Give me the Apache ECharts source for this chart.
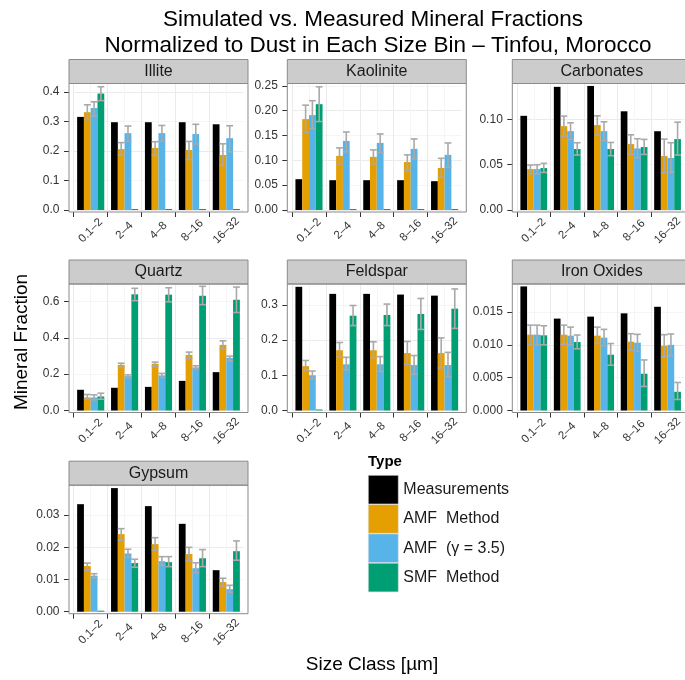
<!DOCTYPE html>
<html><head><meta charset="utf-8">
<script src="https://cdn.jsdelivr.net/npm/echarts@6/dist/echarts.min.js"></script>
<style>html,body{margin:0;padding:0;background:#fff}#c{width:685px;height:680px}</style>
</head><body><div id="c"></div>
<script>
// ---------------- DATA ----------------
const minerals = ['Illite', 'Kaolinite', 'Carbonates', 'Quartz', 'Feldspar', 'Iron Oxides', 'Gypsum'];
const sizeBins = ['0.1–2', '2–4', '4–8', '8–16', '16–32'];
const seriesNames = ['Measurements', 'AMF Method', 'AMF (γ = 3.5)', 'SMF Method'];

const measurements = [
  [0.315, 0.297, 0.297, 0.297, 0.290],
  [0.062, 0.060, 0.060, 0.060, 0.058],
  [0.104, 0.136, 0.137, 0.109, 0.087],
  [0.114, 0.125, 0.130, 0.163, 0.211],
  [0.351, 0.331, 0.331, 0.329, 0.326],
  [0.0189, 0.0140, 0.0143, 0.0148, 0.0158],
  [0.0334, 0.0384, 0.0328, 0.0273, 0.0129]
];
const amfMethod = [
  [0.331, 0.206, 0.210, 0.203, 0.186],
  [0.183, 0.109, 0.107, 0.0965, 0.0845],
  [0.0452, 0.0926, 0.0938, 0.0728, 0.0596],
  [0.0716, 0.251, 0.257, 0.306, 0.361],
  [0.126, 0.171, 0.171, 0.163, 0.163],
  [0.01155, 0.01155, 0.0114, 0.01048, 0.00987],
  [0.0142, 0.0241, 0.0210, 0.0179, 0.0092]
];
const amfLo = [
  [0.306, 0.185, 0.185, 0.171, 0.151],
  [0.156, 0.093, 0.093, 0.080, 0.066],
  [0.040, 0.0816, 0.0827, 0.0618, 0.0412],
  [0.062, 0.237, 0.244, 0.286, 0.338],
  [0.115, 0.151, 0.150, 0.131, 0.121],
  [0.0100, 0.0101, 0.0102, 0.0092, 0.0082],
  [0.0129, 0.0222, 0.0191, 0.0158, 0.0080]
];
const amfHi = [
  [0.356, 0.228, 0.231, 0.232, 0.224],
  [0.211, 0.125, 0.121, 0.111, 0.104],
  [0.0496, 0.1037, 0.104, 0.083, 0.0783],
  [0.088, 0.260, 0.266, 0.321, 0.383],
  [0.142, 0.193, 0.195, 0.196, 0.206],
  [0.0130, 0.0130, 0.0127, 0.0117, 0.01155],
  [0.0151, 0.0258, 0.0230, 0.0200, 0.0104]
];
const amfGamma = [
  [0.345, 0.260, 0.260, 0.257, 0.243],
  [0.191, 0.139, 0.135, 0.123, 0.111],
  [0.0452, 0.0871, 0.0871, 0.068, 0.0574],
  [0.0716, 0.189, 0.193, 0.237, 0.290],
  [0.100, 0.131, 0.131, 0.129, 0.129],
  [0.01155, 0.0114, 0.0111, 0.01033, 0.0100],
  [0.0112, 0.0181, 0.0157, 0.0135, 0.0070]
];
const gammaLo = [
  [0.318, 0.233, 0.233, 0.223, 0.197],
  [0.164, 0.117, 0.115, 0.103, 0.086],
  [0.040, 0.0779, 0.0768, 0.0577, 0.0415],
  [0.059, 0.180, 0.182, 0.229, 0.273],
  [0.090, 0.115, 0.111, 0.103, 0.096],
  [0.0100, 0.0100, 0.00987, 0.0090, 0.00834],
  [0.0105, 0.0169, 0.0144, 0.0121, 0.0060]
];
const gammaHi = [
  [0.366, 0.284, 0.286, 0.290, 0.285],
  [0.220, 0.157, 0.153, 0.143, 0.135],
  [0.050, 0.0963, 0.0974, 0.0787, 0.0743],
  [0.086, 0.196, 0.204, 0.246, 0.299],
  [0.112, 0.151, 0.153, 0.156, 0.165],
  [0.0130, 0.0127, 0.01236, 0.0116, 0.01165],
  [0.0118, 0.0194, 0.0171, 0.0152, 0.0082]
];
const smfMethod = [
  [0.394, 0.001, 0.001, 0.001, 0.001],
  [0.213, 0.001, 0.001, 0.001, 0.001],
  [0.0463, 0.0673, 0.0673, 0.0695, 0.0783],
  [0.077, 0.639, 0.637, 0.631, 0.609],
  [0.001, 0.269, 0.271, 0.274, 0.289],
  [0.01145, 0.01043, 0.0085, 0.0056, 0.00285],
  [0.0001, 0.0151, 0.0154, 0.0166, 0.0188]
];
const smfLo = [
  [0.370, null, null, null, null],
  [0.178, null, null, null, null],
  [0.0415, 0.0607, 0.060, 0.0614, 0.0607],
  [0.062, 0.604, 0.598, 0.582, 0.539],
  [null, 0.241, 0.241, 0.230, 0.233],
  [0.0100, 0.0094, 0.0069, 0.00366, 0.00168],
  [null, 0.0138, 0.014, 0.014, 0.016]
];
const smfHi = [
  [0.417, null, null, null, null],
  [0.248, null, null, null, null],
  [0.0515, 0.0743, 0.0746, 0.078, 0.097],
  [0.095, 0.672, 0.675, 0.683, 0.679],
  [null, 0.298, 0.302, 0.318, 0.345],
  [0.0129, 0.0115, 0.0102, 0.0077, 0.00427],
  [null, 0.0163, 0.0171, 0.0193, 0.022]
];
// axis limits and tick labels per panel
const yMax = [0.428, 0.2546, 0.1397, 0.6957, 0.359, 0.01927, 0.0393];
const yTicks = [
  [0, 0.1, 0.2, 0.3, 0.4],
  [0, 0.05, 0.10, 0.15, 0.20, 0.25],
  [0, 0.05, 0.10],
  [0, 0.2, 0.4, 0.6],
  [0, 0.1, 0.2, 0.3],
  [0, 0.005, 0.010, 0.015],
  [0, 0.01, 0.02, 0.03]
];
const yDecimals = [1, 2, 2, 1, 1, 3, 2];

// ---------------- STYLE / LAYOUT ----------------
const colors = ['#000000', '#E69F00', '#56B4E9', '#009E73'];
const FONT = '"Liberation Sans", Arial, Helvetica, sans-serif';
const U = 33.9, PANEL_W = 5.28 * U, GRID_W = 5 * U, GRID_H = 126.5, STRIP_H = 24, PAD_L = 0.14 * U, PAD_B = 2;
const colLeft = [69, 287.3, 512.3];
const rowTop = [83.5, 284, 485.2];

const values = [measurements, amfMethod, amfGamma, smfMethod];
const lows = [null, amfLo, gammaLo, smfLo];
const highs = [null, amfHi, gammaHi, smfHi];

const grids = [], xAxes = [], yAxes = [], series = [], graphics = [];

minerals.forEach((name, g) => {
  const col = g % 3, row = Math.floor(g / 3);
  const pl = colLeft[col], pt = rowTop[row];
  const minorStep = (yTicks[g][1] - yTicks[g][0]) / 2;
  grids.push({left: pl + PAD_L, top: pt, width: GRID_W, height: GRID_H, containLabel: false});
  xAxes.push({
    type: 'category', gridIndex: g, data: sizeBins, position: 'bottom', offset: PAD_B,
    axisLine: {show: false, onZero: false}, axisTick: {show: false}, splitLine: {show: false},
    axisLabel: {interval: 0, rotate: 45, align: 'center', verticalAlign: 'middle', margin: 18.5,
      fontSize: 11.5, color: '#333', fontFamily: FONT}
  });
  xAxes.push({
    type: 'value', gridIndex: g, min: 0, max: 5, interval: 1, position: 'bottom', offset: PAD_B,
    axisLine: {show: false, onZero: false}, axisLabel: {show: false},
    axisTick: {show: true, customValues: [0, 1, 2, 3, 4], length: 5, lineStyle: {color: '#333', width: 1}},
    splitLine: {show: true, lineStyle: {color: '#ebebeb', width: 1}},
    minorTick: {show: false, splitNumber: 2},
    minorSplitLine: {show: true, lineStyle: {color: '#f5f5f5', width: 1}}
  });
  yAxes.push({
    type: 'value', gridIndex: g, min: 0, max: yMax[g], interval: minorStep, position: 'left', offset: PAD_L,
    axisLine: {show: false, onZero: false},
    axisTick: {show: true, customValues: yTicks[g], length: 5, lineStyle: {color: '#333', width: 1}},
    axisLabel: {customValues: yTicks[g], formatter: v => Number(v).toFixed(yDecimals[g]), margin: 9.5,
      fontSize: 12, color: '#333', fontFamily: FONT},
    splitLine: {show: true, lineStyle: {color: ['#ebebeb', '#f5f5f5'], width: 1}}
  });
  values.forEach((arr, s) => {
    series.push({
      type: 'bar', name: seriesNames[s], xAxisIndex: 2 * g, yAxisIndex: g, data: arr[g],
      itemStyle: {color: colors[s]}, barGap: '0%', barCategoryGap: '20%', barMinHeight: s === 3 ? 1 : 0,
      silent: true, animation: false
    });
  });
  const errItems = [];
  for (let s = 1; s <= 3; s++) {
    for (let k = 0; k < sizeBins.length; k++) {
      const lo = lows[s][g][k], hi = highs[s][g][k];
      if (lo !== null && hi !== null) errItems.push([k, lo, hi, s]);
    }
  }
  series.push({
    type: 'custom', name: 'err', xAxisIndex: 2 * g, yAxisIndex: g, data: errItems, z: 5, silent: true, animation: false,
    encode: {x: 0, y: [1, 2]},
    renderItem: (params, api) => {
      const k = api.value(0), lo = api.value(1), hi = api.value(2), s = api.value(3);
      const band = api.size([1, 0])[0];
      const bw = band * 0.8 / 4;
      const p0 = api.coord([k, lo]), p1 = api.coord([k, hi]);
      const cx = p0[0] + (s - 1.5) * bw;
      const half = bw * 0.5;
      const st = {stroke: '#a9a9a9', lineWidth: 1.6, fill: null};
      return {type: 'group', children: [
        {type: 'line', shape: {x1: cx, y1: p0[1], x2: cx, y2: p1[1]}, style: st},
        {type: 'line', shape: {x1: cx - half, y1: p1[1], x2: cx + half, y2: p1[1]}, style: st},
        {type: 'line', shape: {x1: cx - half, y1: p0[1], x2: cx + half, y2: p0[1]}, style: st}
      ]};
    }
  });
  // strip and panel border
  graphics.push({type: 'rect', z: 100, shape: {x: pl, y: pt - STRIP_H, width: PANEL_W, height: STRIP_H},
    style: {fill: '#cccccc', stroke: '#8a8a8a', lineWidth: 1}});
  graphics.push({type: 'text', z: 101, x: pl + PANEL_W / 2, y: pt - STRIP_H / 2,
    style: {text: name, fontSize: 16, fontFamily: FONT, fill: '#1a1a1a', align: 'center', verticalAlign: 'middle'}});
  graphics.push({type: 'rect', z: 100, shape: {x: pl, y: pt, width: PANEL_W, height: GRID_H + PAD_B},
    style: {fill: 'none', stroke: '#8a8a8a', lineWidth: 1}});
});

// titles
graphics.push({type: 'text', z: 101, x: 373, y: 20,
  style: {text: 'Simulated vs. Measured Mineral Fractions', fontSize: 22.5, fontFamily: FONT, fill: '#000', align: 'center', verticalAlign: 'middle'}});
graphics.push({type: 'text', z: 101, x: 378, y: 46,
  style: {text: 'Normalized to Dust in Each Size Bin – Tinfou, Morocco', fontSize: 22.5, fontFamily: FONT, fill: '#000', align: 'center', verticalAlign: 'middle'}});
graphics.push({type: 'text', z: 101, x: 22, y: 342, rotation: Math.PI / 2,
  style: {text: 'Mineral Fraction', fontSize: 19, fontFamily: FONT, fill: '#000', align: 'center', verticalAlign: 'middle'}});
graphics.push({type: 'text', z: 101, x: 372, y: 665,
  style: {text: 'Size Class [µm]', fontSize: 19, fontFamily: FONT, fill: '#000', align: 'center', verticalAlign: 'middle'}});
graphics.push({type: 'text', z: 101, x: 368, y: 462,
  style: {text: 'Type', fontSize: 15, fontWeight: 'bold', fontFamily: FONT, fill: '#000', align: 'left', verticalAlign: 'middle'}});

const chart = echarts.init(document.getElementById('c'), null, {renderer: 'canvas'});
chart.setOption({
  animation: false,
  backgroundColor: '#ffffff',
  textStyle: {fontFamily: FONT},
  grid: grids,
  xAxis: xAxes,
  yAxis: yAxes,
  series: series,
  legend: {
    data: seriesNames, orient: 'vertical', left: 368, top: 475, padding: 0,
    itemWidth: 30, itemHeight: 28.7, itemGap: 0, icon: 'rect', selectedMode: false,
    itemStyle: {borderColor: '#dddddd', borderWidth: 0.6},
    textStyle: {fontSize: 16, fontFamily: FONT, color: '#1a1a1a'},
    formatter: n => n.replace(/^(AMF|SMF) /, '$1  ')
  },
  graphic: graphics
});
</script>
</body></html>
